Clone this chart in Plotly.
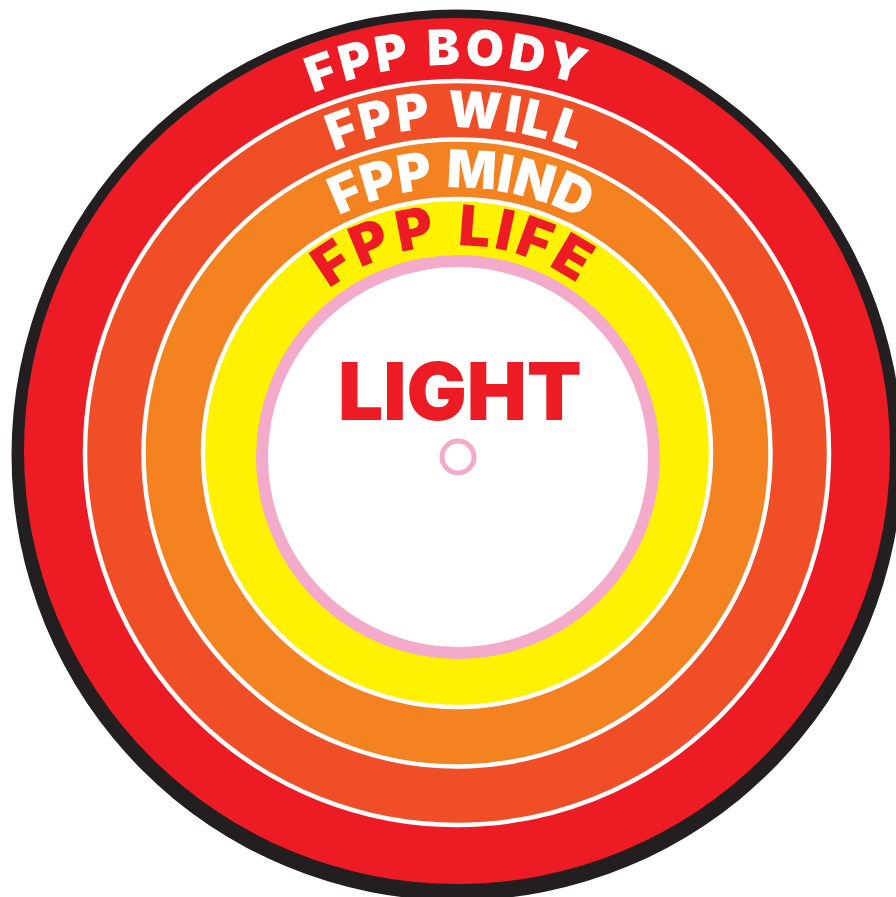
import math
import plotly.graph_objects as go

# ---------------- data ----------------
ring_labels = ["FPP BODY", "FPP WILL", "FPP MIND", "FPP LIFE"]
ring_outer_radii = [433, 372, 313.5, 254]          # outer edge of each band
core_outer_radius = 202                            # pink rim outer edge
center_label = "LIGHT"
dot_radius = 16

# ---------------- styles ----------------
W, H = 896, 897
CX, CY = 457, 453            # centre of the coloured rings
CORE_CX, CORE_CY = 458, 457  # centre of the inner light disc
BORDER_R = 445.5
BLACK = "#231F20"
ring_fill = ["#ED1C24", "#F04E27", "#F58220", "#FFF200"]
label_color = ["#FFFFFF", "#FFFFFF", "#FFFFFF", "#ED1C24"]
label_size = [49, 50, 52, 56]
label_radial_shift = [3, 1, 0, 0]
label_first_deg = [-19.6, -19.6, -23.3, -33.5]   # centre angle of first glyph
label_last_deg = [15.7, 19.0, 24.4, 30.6]        # centre angle of last glyph
PINK = "#F3AACB"
WHITE_LINE = 4.5
PINK_W = 12
FONT = "Inter, 'Noto Sans', sans-serif"

# approximate Inter Black advance widths (em)
ADV = {"F": .60, "P": .66, " ": .25, "B": .70, "O": .78, "D": .73,
       "Y": .70, "W": 1.06, "I": .30, "L": .58, "M": .92, "N": .77,
       "E": .60}

fig = go.Figure()
fig.add_trace(go.Scatter(x=[CX], y=[CY], mode="markers",
                         marker=dict(size=1, opacity=0), hoverinfo="skip",
                         showlegend=False))

shapes = []


def circle(cx, cy, r, fill, line_color=None, line_width=0):
    shapes.append(dict(type="circle", xref="x", yref="y",
                       x0=cx - r, x1=cx + r, y0=cy - r, y1=cy + r,
                       fillcolor=fill,
                       line=dict(color=line_color or fill, width=line_width)))


# black border disc
circle(CX, CY + 2, BORDER_R, BLACK)
# coloured bands
for i, (r, col) in enumerate(zip(ring_outer_radii, ring_fill)):
    if i == 0:
        circle(CX, CY - 2, r, col)
    else:
        circle(CX, CY, r, col, "#FFFFFF", WHITE_LINE)
# light core with pink rim
circle(CORE_CX, CORE_CY, core_outer_radius - PINK_W / 2, "#FFFFFF", PINK, PINK_W)
# small centre ring
shapes.append(dict(type="circle", xref="x", yref="y",
                   x0=CORE_CX - dot_radius, x1=CORE_CX + dot_radius,
                   y0=CORE_CY - dot_radius, y1=CORE_CY + dot_radius,
                   fillcolor="rgba(0,0,0,0)", line=dict(color=PINK, width=5)))

annotations = []
inner_edges = ring_outer_radii[1:] + [core_outer_radius]
for i, text in enumerate(ring_labels):
    size = label_size[i]
    r_mid = (ring_outer_radii[i] + inner_edges[i]) / 2 + label_radial_shift[i]
    # cumulative centre-to-centre distances, in em
    centres = [0.0]
    for a, b in zip(text[:-1], text[1:]):
        centres.append(centres[-1] + ADV[a] / 2 + ADV[b] / 2)
    span = centres[-1]
    a0, a1 = label_first_deg[i], label_last_deg[i]
    for c, d in zip(text, centres):
        if c == " ":
            continue
        theta_deg = a0 + (a1 - a0) * d / span
        theta = math.radians(theta_deg)
        x = CX + r_mid * math.sin(theta)
        y = CY - r_mid * math.cos(theta)
        annotations.append(dict(x=x, y=y, xref="x", yref="y", text=c,
                                showarrow=False, xanchor="center",
                                yanchor="middle", textangle=theta_deg,
                                font=dict(family=FONT, size=size,
                                          color=label_color[i], weight=900)))

annotations.append(dict(x=460, y=390, xref="x", yref="y", text=center_label,
                        showarrow=False, xanchor="center", yanchor="middle",
                        font=dict(family=FONT, size=80,
                                  color="#ED1C24", weight=900)))

fig.update_layout(width=W, height=H, margin=dict(l=0, r=0, t=0, b=0),
                  paper_bgcolor="white", plot_bgcolor="white",
                  shapes=shapes, annotations=annotations, showlegend=False)
fig.update_xaxes(range=[0, W], visible=False, fixedrange=True)
fig.update_yaxes(range=[H, 0], visible=False, fixedrange=True)

fig.write_html("out.html", config={"displayModeBar": False},
               post_script="document.body.style.margin='0';"
                           "document.body.style.overflow='hidden';")
